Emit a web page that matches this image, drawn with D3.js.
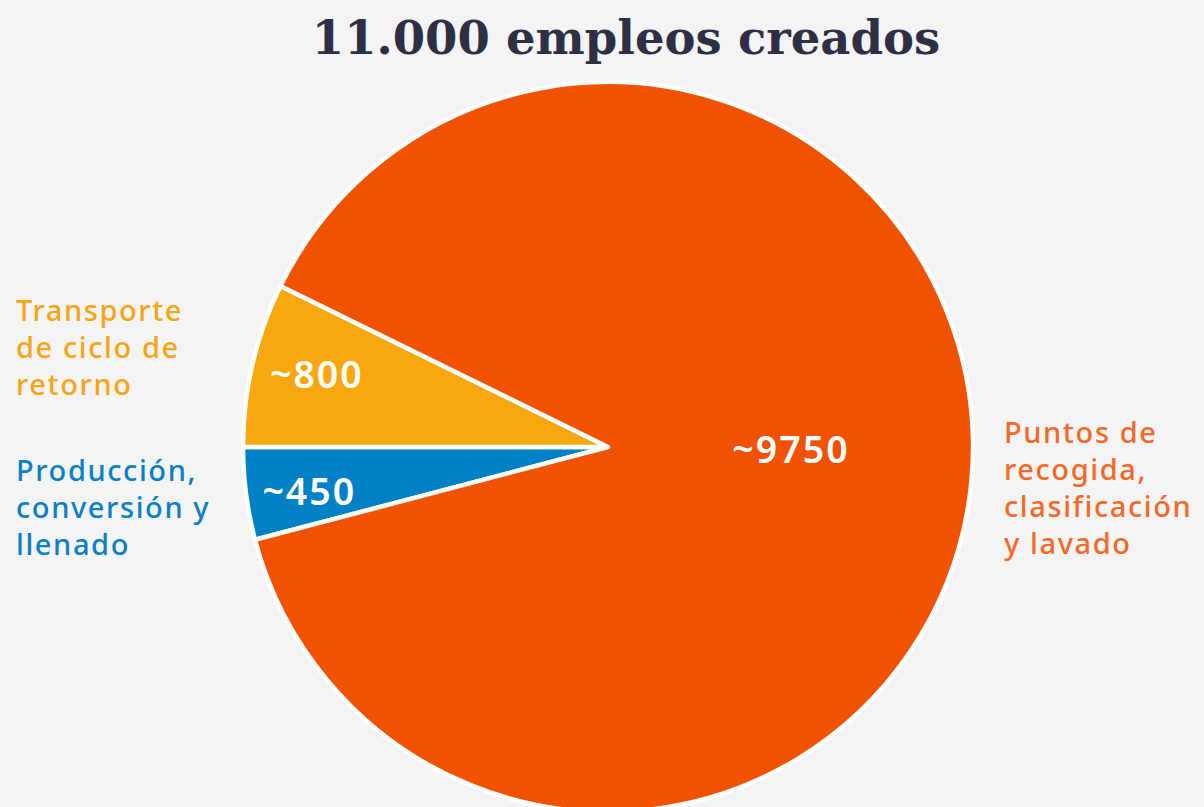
<!DOCTYPE html>
<html><head><meta charset="utf-8">
<script src="https://cdn.jsdelivr.net/npm/d3@7"></script>
<style>html,body{margin:0;padding:0;background:#f4f4f4;}svg{display:block;}</style>
</head><body>
<svg id="chart" width="1204" height="807"></svg>
<script>
const title = "11.000 empleos creados";
const categories = ["Producción, conversión y llenado", "Transporte de ciclo de retorno", "Puntos de recogida, clasificación y lavado"];
const values = [450, 800, 9750];
const valueLabels = ["~450", "~800", "~9750"];
const labelLines = [["Producción,", "conversión y", "llenado"], ["Transporte", "de ciclo de", "retorno"], ["Puntos de", "recogida,", "clasificación", "y lavado"]];
const sliceColors = ["#0081c6", "#f7a70f", "#f05200"];
const textColors = ["#0a7fc4", "#f6a516", "#f26a2a"];

const W = 1204, H = 807;
const svg = d3.select("#chart");
svg.append("rect").attr("width", W).attr("height", H).attr("fill", "#f4f4f4");

const cx = 608, cy = 447, R = 365;
const total = d3.sum(values);
const start = 1.5 * Math.PI - (values[0] / total) * 2 * Math.PI;
const pie = d3.pie().sort(null).value(d => d).startAngle(start).endAngle(start + 2 * Math.PI);
const arcs = pie(values);
const arc = d3.arc().innerRadius(0).outerRadius(R);

const g = svg.append("g").attr("transform", `translate(${cx},${cy})`);
g.selectAll("path").data(arcs).join("path")
  .attr("d", arc)
  .attr("fill", (d, i) => sliceColors[i])
  .attr("stroke", "#ffffff").attr("stroke-width", 4.5).attr("stroke-linejoin", "round");

// label placement: radius and angle offset (radians) from slice mid-angle
const labelRadius = [302, 300, 183];
const labelAngleShift = [-0.02, 0.015, -0.085];
g.selectAll("text.val").data(arcs).join("text").attr("class", "val")
  .attr("transform", (d, i) => {
    const a = (d.startAngle + d.endAngle) / 2 + labelAngleShift[i];
    const x = Math.sin(a) * labelRadius[i], y = -Math.cos(a) * labelRadius[i];
    return `translate(${x},${y})`;
  })
  .attr("text-anchor", "middle").attr("dy", "0.36em")
  .attr("font-family", "'Noto Sans', sans-serif").attr("font-weight", 600)
  .attr("font-size", 37.5).attr("letter-spacing", 2).attr("fill", "#ffffff")
  .text((d, i) => valueLabels[i]);

svg.append("text").attr("x", 626).attr("y", 54).attr("text-anchor", "middle")
  .attr("font-family", "'DejaVu Serif', serif").attr("font-weight", 700)
  .attr("font-size", 46.5).attr("fill", "#2e2f45").text(title);

const catPos = [{x: 16, y: 481}, {x: 16, y: 321}, {x: 1004, y: 443}];
categories.forEach((c, i) => {
  const t = svg.append("text").attr("x", catPos[i].x).attr("y", catPos[i].y)
    .attr("font-family", "'Noto Sans', sans-serif").attr("font-weight", 500)
    .attr("font-size", 29).attr("letter-spacing", 1.6).attr("fill", textColors[i]);
  labelLines[i].forEach((l, j) => {
    t.append("tspan").attr("x", catPos[i].x).attr("dy", j === 0 ? 0 : 37).text(l);
  });
});
</script>
</body></html>
